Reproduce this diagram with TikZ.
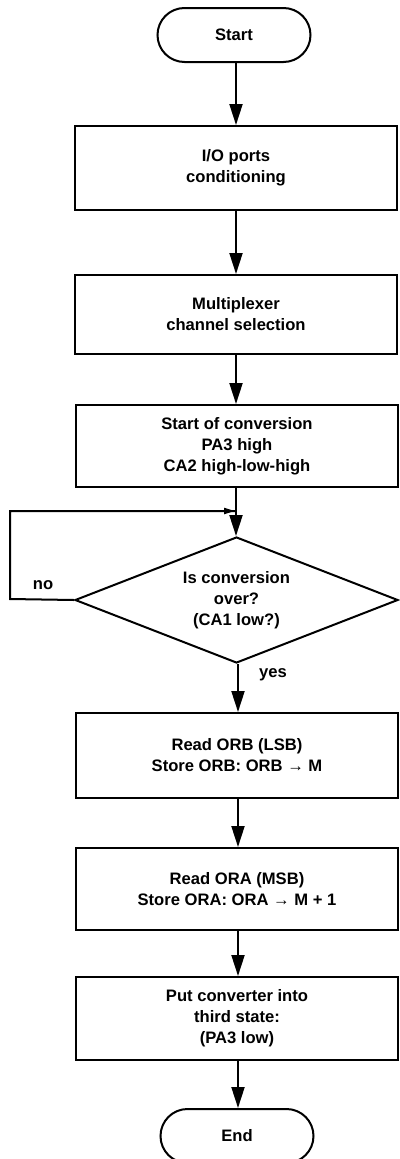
\documentclass[tikz,border=0pt]{standalone}
\usepackage{fontspec}
\setmainfont{Liberation Sans}
\usetikzlibrary{arrows.meta,shapes.geometric}
\begin{document}
\begin{tikzpicture}[x=1pt,y=-1pt,
  every node/.style={font=\bfseries\fontsize{16.6}{21}\selectfont, align=center, inner sep=0pt},
  stepbox/.style={draw, line width=2pt, minimum width=322pt},
  term/.style={draw, rounded corners=27pt, minimum width=153pt, minimum height=54pt, line width=2pt},
  decision/.style={draw, diamond, aspect=2.56, minimum width=323pt, minimum height=126pt, line width=2pt},
  flow/.style={line width=2pt, -{Triangle[length=21pt,width=13pt]}},
  loopflow/.style={line width=2pt, -{Triangle[length=11pt,width=6pt]}},
  lbl/.style={font=\bfseries\fontsize{16.6}{21}\selectfont}
]
\useasboundingbox (0,0) rectangle (399,1159);

\node[term] (start) at (234,35) {Start};
\node[stepbox, minimum height=84pt] (b1) at (236,168) {I/O ports\\conditioning};
\node[stepbox, minimum height=79pt] (b2) at (236,314.5) {Multiplexer\\channel selection};
\node[stepbox, minimum height=82pt] (b3) at (237,446) {Start of conversion\\PA3 high\\CA2 high-low-high};
\node[decision] (dia) at (236.5,600) {Is conversion\\over?\\(CA1 low?)};
\node[stepbox, minimum height=85pt] (b4) at (237,755.5) {Read ORB (LSB)\\Store ORB: ORB → M};
\node[stepbox, minimum height=82pt] (b5) at (237,889) {Read ORA (MSB)\\Store ORA: ORA → M + 1};
\node[stepbox, minimum height=83pt] (b6) at (237,1018.5) {Put converter into\\third state:\\(PA3 low)};
\node[term] (end) at (237,1136) {End};

\node[lbl] (no) at (43,585) {no};
\node[lbl, anchor=west] (yes) at (259,675) {yes};

\coordinate (lc1) at (10,599);
\coordinate (lc2) at (10,511);
\coordinate (lend) at (235,511);

\draw[flow] (start.south -| 236,0) -- (b1.north -| 236,0);
\draw[flow] (b1.south -| 236,0) -- (b2.north -| 236,0);
\draw[flow] (b2.south -| 236,0) -- (b3.north -| 236,0);
\draw[flow] (b3.south -| 236,0) -- (dia.north -| 236,0);
\draw[line width=2pt, line join=miter] (dia.west) -- (lc1) -- (lc2) -- (lend |- lc2);
\draw[loopflow] (lc2) -- (lend);
\draw[flow] (dia.south -| 238,0) -- (b4.north -| 238,0);
\draw[flow] (b4.south -| 238,0) -- (b5.north -| 238,0);
\draw[flow] (b5.south -| 238,0) -- (b6.north -| 238,0);
\draw[flow] (b6.south -| 238,0) -- (end.north -| 238,0);
\end{tikzpicture}
\end{document}
